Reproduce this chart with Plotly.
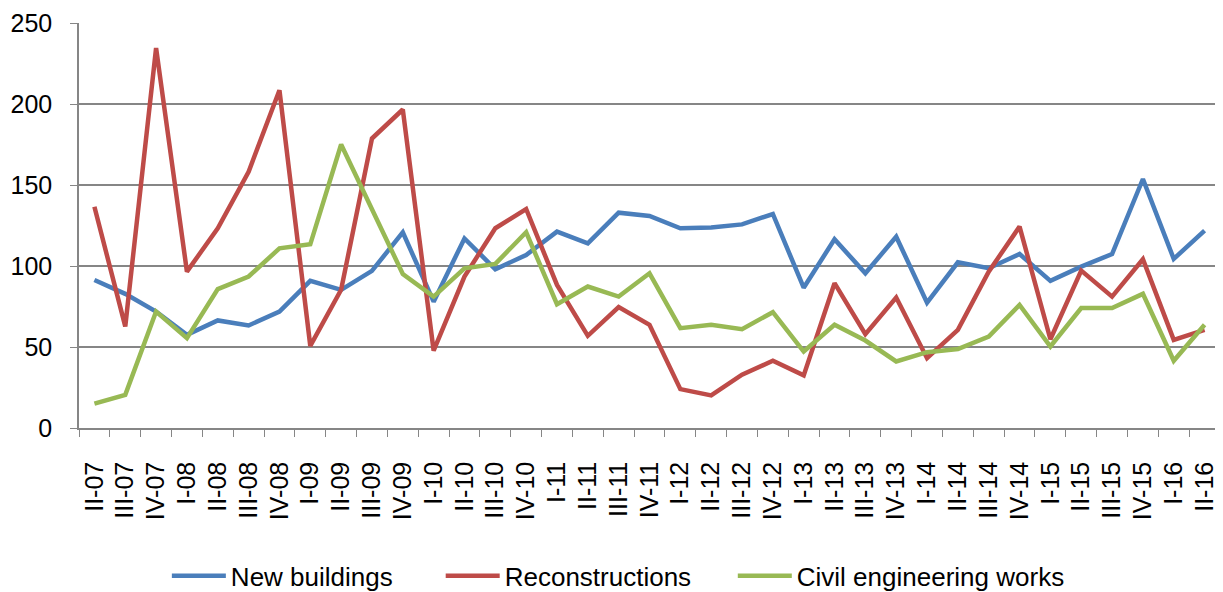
import plotly.graph_objects as go

categories = ["II-07", "III-07", "IV-07", "I-08", "II-08", "III-08", "IV-08",
              "I-09", "II-09", "III-09", "IV-09", "I-10", "II-10", "III-10", "IV-10",
              "I-11", "II-11", "III-11", "IV-11", "I-12", "II-12", "III-12", "IV-12",
              "I-13", "II-13", "III-13", "IV-13", "I-14", "II-14", "III-14", "IV-14",
              "I-15", "II-15", "III-15", "IV-15", "I-16", "II-16"]

new_buildings = [91.4, 82.8, 71.9, 57.5, 66.4, 63.3, 71.9, 90.8, 85.3, 97.0, 120.8,
                 78.0, 117.0, 98.0, 106.8, 121.2, 114.0, 132.9, 130.9, 123.3, 123.7,
                 125.7, 132.1, 86.6, 116.5, 95.5, 118.1, 77.4, 102.3, 98.6, 107.4,
                 90.8, 99.6, 107.4, 153.7, 104.4, 121.8]

reconstructions = [136.6, 62.7, 234.6, 96.5, 123.3, 158.2, 208.5, 50.7, 85.3, 178.7,
                   196.6, 47.7, 93.5, 123.3, 135.2, 88.3, 56.9, 74.6, 63.7, 24.0, 20.1,
                   32.9, 41.5, 32.5, 89.4, 57.9, 80.5, 43.1, 60.6, 96.5, 124.3, 54.8,
                   97.2, 81.1, 104.2, 54.4, 60.6]

civil_engineering = [15.0, 20.5, 71.9, 55.5, 85.7, 93.5, 110.9, 113.4, 175.0, 134.6,
                     95.1, 81.1, 98.6, 101.3, 120.8, 76.4, 87.3, 81.1, 95.5, 61.6, 63.7,
                     61.0, 71.5, 47.2, 63.7, 54.0, 41.1, 46.8, 48.7, 56.5, 76.0, 50.3,
                     74.0, 74.0, 82.8, 41.5, 63.7]

series = [
    ("New buildings", new_buildings, "#4A7EBB", "legend", 0.077),
    ("Reconstructions", reconstructions, "#BE4B48", "legend2", 0.317),
    ("Civil engineering works", civil_engineering, "#98B954", "legend3", 0.573),
]

fig = go.Figure()
font_family = "Liberation Sans, Arial, sans-serif"
legend_layout = {}
for name, vals, color, leg, lx in series:
    fig.add_trace(go.Scatter(x=categories, y=vals, name=name, mode="lines",
                             line=dict(color=color, width=4.5), legend=leg))
    legend_layout[leg] = dict(orientation="h", x=lx, xanchor="left",
                              y=0.041, yref="container", yanchor="middle",
                              font=dict(size=26), itemwidth=54,
                              bgcolor="rgba(0,0,0,0)")

fig.update_layout(
    width=1223, height=592,
    margin=dict(l=71, r=11, t=15, b=172),
    plot_bgcolor="white", paper_bgcolor="white",
    font=dict(family=font_family, size=25, color="black"),
    showlegend=True,
    **legend_layout,
)
fig.update_xaxes(
    type="category", tickangle=-90, showgrid=False, automargin=False,
    showline=True, linecolor="#868686", linewidth=1.5,
    ticks="outside", tickson="boundaries", ticklen=7, tickcolor="#868686",
    tickmode="array", tickvals=categories, ticktext=categories,
    tickfont=dict(size=25), range=[-0.5, len(categories) - 0.5],
    ticklabelstandoff=22,
)
fig.update_yaxes(
    range=[0, 250], dtick=50, showgrid=True, gridcolor="#868686", gridwidth=1.5,
    showline=True, linecolor="#868686", linewidth=1.5, automargin=False,
    ticks="outside", ticklen=7, tickcolor="#868686", zeroline=False,
    tickfont=dict(size=25), ticklabelstandoff=13,
)
fig.write_html("out.html")
